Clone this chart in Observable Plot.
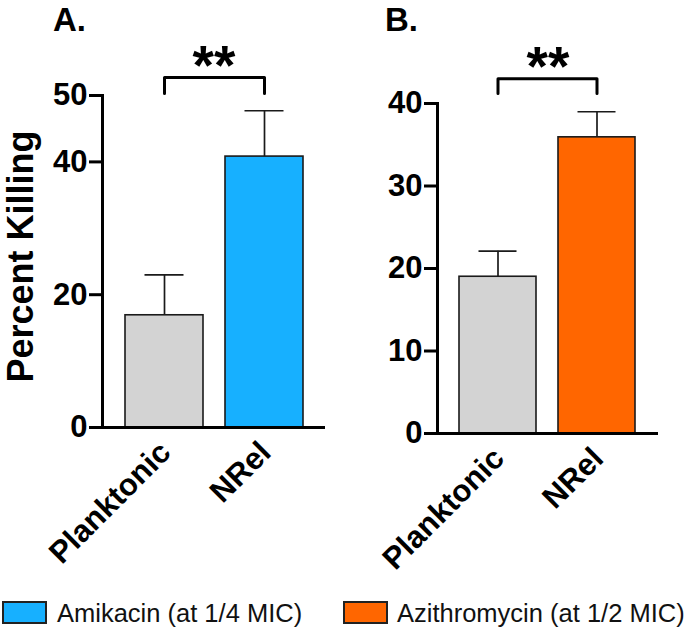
<!DOCTYPE html>
<html>
<head>
<meta charset="utf-8">
<script src="https://cdn.jsdelivr.net/npm/d3@7"></script>
<script src="https://cdn.jsdelivr.net/npm/@observablehq/plot@0.6"></script>
<style>
  body { margin: 0; background: #fff; }
  #wrap { position: relative; width: 688px; height: 628px; font-family: "Liberation Sans", Arial, sans-serif; color: #000; overflow: hidden; }
  .panel { position: absolute; top: 0; }
  .plabel { position: absolute; top: 3px; font-size: 33px; font-weight: bold; line-height: 1; }
  .sw { position: absolute; top: 601px; width: 45px; height: 23px; box-sizing: border-box; border: 2px solid #222; }
  .lt { position: absolute; top: 600px; font-size: 25.5px; line-height: 26px; white-space: nowrap; color: #111; }
</style>
</head>
<body>
<div id="wrap"></div>
<script>
// ---- data ----
const categories = ["Planktonic", "NRel"];
const amikacinMean = [16.9, 40.8];
const amikacinErr = [6.1, 6.9];
const azithroMean = [19.0, 35.9];
const azithroErr = [3.1, 3.1];
const barColorsA = ["#d3d3d3", "#17b0ff"];
const barColorsB = ["#d3d3d3", "#ff6600"];
const ticksA = [0, 20, 40, 50];
const ticksB = [0, 10, 20, 30, 40];
const yMaxA = 50;
const yMaxB = 40;
const bracketA = [50.3, 52.7];   // bracket foot, bracket top
const bracketB = [41.2, 43.0];
const starsA = [51.7];
const starsB = [42.3];
const sigLabel = "**";
const panelLabels = ["A.", "B."];
const yTitle = "Percent Killing";
const legendLabels = ["Amikacin (at 1/4 MIC)", "Azithromycin (at 1/2 MIC)"];
const legendColors = ["#17b0ff", "#ff6600"];

const FONT = "Liberation Sans, Arial, Helvetica, sans-serif";

function panel(o) {
  const rows = categories.map((c, i) => ({cat: c, mean: o.means[i], top: o.means[i] + o.errs[i], color: o.colors[i]}));
  const bracket = [
    {cat: categories[0], y: o.bracket[0]},
    {cat: categories[0], y: o.bracket[1]},
    {cat: categories[1], y: o.bracket[1]},
    {cat: categories[1], y: o.bracket[0]}
  ];
  const marks = [
    Plot.ruleX(rows, {x: "cat", y1: "mean", y2: "top", stroke: "#1a1a1a", strokeWidth: 1.7}),
    Plot.tickY(rows, {x: "cat", y: "top", stroke: "#1a1a1a", strokeWidth: 1.7, insetLeft: 19.5, insetRight: 19.5}),
    Plot.barY(rows, {x: "cat", y: "mean", fill: "color", stroke: "#1a1a1a", strokeWidth: 1.6}),
    Plot.line(bracket, {x: "cat", y: "y", stroke: "#000", strokeWidth: 3}),
    Plot.text([sigLabel], {y: o.stars, text: d => d, frameAnchor: "middle", textAnchor: "middle", lineAnchor: "bottom", fontSize: 55, fontWeight: "bold"}),
    Plot.ruleY([0], {stroke: "#000", strokeWidth: 3, insetLeft: -13}),
    Plot.frame({anchor: "left", stroke: "#000", strokeWidth: 3}),
    Plot.axisY({ticks: o.ticks, tickSize: 13, tickPadding: 2, strokeWidth: 3, fontSize: 31, fontWeight: "bold", tickFormat: d => String(d), label: null}),
    Plot.axisX({tickSize: 0, tickRotate: -45, fontSize: 31, fontWeight: "bold", label: null, dx: 1, dy: 8})
  ];
  if (o.title) {
    marks.push(Plot.text([o.title], {frameAnchor: "left", textAnchor: "middle", rotate: -90, dx: -81, dy: -5, fontSize: 36, fontWeight: "bold"}));
  }
  return Plot.plot({
    width: o.width, height: o.height,
    marginLeft: o.ml, marginRight: o.mr, marginTop: o.mt, marginBottom: o.mb,
    style: {fontFamily: FONT, color: "#000", background: "transparent", overflow: "visible"},
    x: {domain: categories, paddingInner: 0.22, paddingOuter: 0.22, axis: null},
    y: {domain: [0, o.yMax], axis: null},
    color: {type: "identity"},
    marks
  });
}

const wrap = document.getElementById("wrap");
const a = panel({means: amikacinMean, errs: amikacinErr, colors: barColorsA, ticks: ticksA, yMax: yMaxA,
  bracket: bracketA, stars: starsA, title: yTitle, width: 340, height: 580, ml: 102, mr: 15, mt: 95, mb: 153});
a.classList.add("panel"); a.style.left = "0px";
wrap.appendChild(a);
const b = panel({means: azithroMean, errs: azithroErr, colors: barColorsB, ticks: ticksB, yMax: yMaxB,
  bracket: bracketB, stars: starsB, title: null, width: 348, height: 580, ml: 97, mr: 30, mt: 103, mb: 147});
b.classList.add("panel"); b.style.left = "340px";
wrap.appendChild(b);

// panel labels
[[panelLabels[0], 53], [panelLabels[1], 385]].forEach(([t, x]) => {
  const d = document.createElement("div");
  d.className = "plabel"; d.textContent = t; d.style.left = x + "px";
  wrap.appendChild(d);
});

// legend
const swX = [2, 343], txX = [57, 397];
legendLabels.forEach((t, i) => {
  const s = document.createElement("div");
  s.className = "sw"; s.style.left = swX[i] + "px"; s.style.background = legendColors[i];
  wrap.appendChild(s);
  const l = document.createElement("div");
  l.className = "lt"; l.style.left = txX[i] + "px"; l.textContent = t;
  wrap.appendChild(l);
});
</script>
</body>
</html>
